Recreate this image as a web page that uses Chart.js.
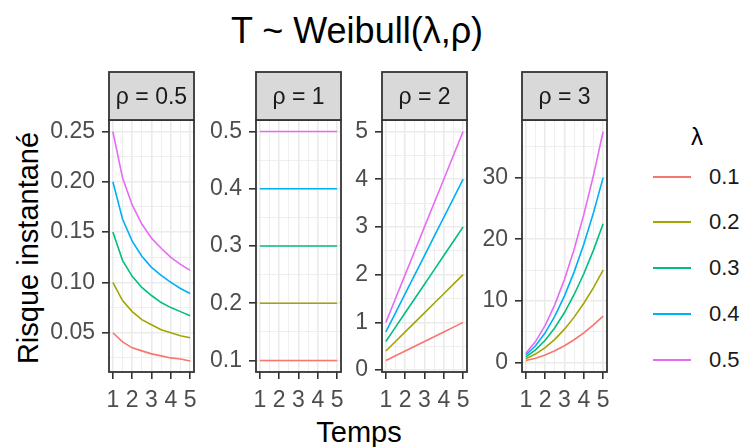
<!DOCTYPE html>
<html>
<head>
<meta charset="utf-8">
<script src="https://cdn.jsdelivr.net/npm/chart.js@4/dist/chart.umd.min.js"></script>
<style>
  body { margin: 0; background: #fff; font-family: "Liberation Sans", Arial, sans-serif; }
  #page { position: relative; width: 753px; height: 447px; overflow: hidden; background: #fff; }
  #page canvas, .txt { position: absolute; }
  .txt { white-space: nowrap; line-height: 1; }
  #title { left: 357px; top: 31px; transform: translate(-50%, -50%); font-size: 36px; color: #000; }
  #xTitle { left: 359px; top: 432px; transform: translate(-50%, -50%); font-size: 29px; color: #000; }
  #yTitle { left: 28px; top: 248px; transform: translate(-50%, -50%) rotate(-90deg); font-size: 29px; color: #000; }
  #legendTitle { left: 697px; top: 137px; transform: translate(-50%, -50%); font-size: 24px; color: #000; }
  .key { position: absolute; left: 653px; width: 38px; height: 2px; }
  .keyLabel { left: 709px; font-size: 22px; color: #1a1a1a; transform: translateY(-50%); }
</style>
</head>
<body>
<div id="page">
  <div class="txt" id="title">T ~ Weibull(λ,ρ)</div>
  <div class="txt" id="yTitle">Risque instantané</div>
  <div class="txt" id="xTitle">Temps</div>
  <div class="txt" id="legendTitle">λ</div>
</div>
<script>
// time points (x) and groups
const temps = [1, 1.5, 2, 2.5, 3, 3.5, 4, 4.5, 5];
const lambdas = ["0.1", "0.2", "0.3", "0.4", "0.5"];
const rhoLabels = ["ρ = 0.5", "ρ = 1", "ρ = 2", "ρ = 3"];
const colors = ["#F8766D", "#A3A500", "#00BF7D", "#00B0F6", "#E76BF3"];

const hazardRho05 = [
  [0.050, 0.041, 0.035, 0.032, 0.029, 0.027, 0.025, 0.024, 0.022],
  [0.100, 0.082, 0.071, 0.063, 0.058, 0.053, 0.050, 0.047, 0.045],
  [0.150, 0.122, 0.106, 0.095, 0.087, 0.080, 0.075, 0.071, 0.067],
  [0.200, 0.163, 0.141, 0.126, 0.115, 0.107, 0.100, 0.094, 0.089],
  [0.250, 0.204, 0.177, 0.158, 0.144, 0.134, 0.125, 0.118, 0.112]
];
const hazardRho1 = [
  [0.1, 0.1, 0.1, 0.1, 0.1, 0.1, 0.1, 0.1, 0.1],
  [0.2, 0.2, 0.2, 0.2, 0.2, 0.2, 0.2, 0.2, 0.2],
  [0.3, 0.3, 0.3, 0.3, 0.3, 0.3, 0.3, 0.3, 0.3],
  [0.4, 0.4, 0.4, 0.4, 0.4, 0.4, 0.4, 0.4, 0.4],
  [0.5, 0.5, 0.5, 0.5, 0.5, 0.5, 0.5, 0.5, 0.5]
];
const hazardRho2 = [
  [0.2, 0.3, 0.4, 0.5, 0.6, 0.7, 0.8, 0.9, 1.0],
  [0.4, 0.6, 0.8, 1.0, 1.2, 1.4, 1.6, 1.8, 2.0],
  [0.6, 0.9, 1.2, 1.5, 1.8, 2.1, 2.4, 2.7, 3.0],
  [0.8, 1.2, 1.6, 2.0, 2.4, 2.8, 3.2, 3.6, 4.0],
  [1.0, 1.5, 2.0, 2.5, 3.0, 3.5, 4.0, 4.5, 5.0]
];
const hazardRho3 = [
  [0.3, 0.68, 1.2, 1.88, 2.7, 3.68, 4.8, 6.08, 7.5],
  [0.6, 1.35, 2.4, 3.75, 5.4, 7.35, 9.6, 12.15, 15.0],
  [0.9, 2.03, 3.6, 5.63, 8.1, 11.03, 14.4, 18.23, 22.5],
  [1.2, 2.7, 4.8, 7.5, 10.8, 14.7, 19.2, 24.3, 30.0],
  [1.5, 3.38, 6.0, 9.38, 13.5, 18.38, 24.0, 30.38, 37.5]
];
const hazards = [hazardRho05, hazardRho1, hazardRho2, hazardRho3];

// axes
const xMin = 0.8, xMax = 5.2;
const xMajor = [1, 2, 3, 4, 5];
const xMinor = [1.5, 2.5, 3.5, 4.5];
const yMin = [0.011, 0.08, -0.04, -1.56];
const yMax = [0.2614, 0.52, 5.24, 39.36];
const yMajor = [
  [0.05, 0.10, 0.15, 0.20, 0.25],
  [0.1, 0.2, 0.3, 0.4, 0.5],
  [0, 1, 2, 3, 4, 5],
  [0, 10, 20, 30]
];
const yMinor = [
  [0.025, 0.075, 0.125, 0.175, 0.225],
  [0.15, 0.25, 0.35, 0.45],
  [0.5, 1.5, 2.5, 3.5, 4.5],
  [5, 15, 25, 35]
];
const yDecimals = [2, 1, 0, 0];

// layout
const panelLeft = [109, 256, 382, 522];
const panelW = 85;
const axisW = 72;
const padRight = 12;
const stripH = 48;
const xAxisH = 45;
const page = document.getElementById("page");
const font = "'Liberation Sans', Arial, sans-serif";

function buildTicks(major, minor) {
  const all = major.map(v => ({ value: v, major: true }))
    .concat(minor.map(v => ({ value: v, major: false })));
  return all.sort((a, b) => a.value - b.value);
}

function isMajor(ctx) {
  return ctx.tick && ctx.tick.major;
}

const panelDecor = {
  id: "panelDecor",
  afterDraw(chart, args, opts) {
    const { ctx, chartArea: a } = chart;
    ctx.save();
    ctx.strokeStyle = "#333333";
    ctx.lineWidth = 1.8;
    ctx.strokeRect(a.left, a.top, a.right - a.left, a.bottom - a.top);
    // facet strip
    ctx.fillStyle = "#D9D9D9";
    ctx.fillRect(a.left, a.top - stripH, a.right - a.left, stripH);
    ctx.strokeRect(a.left, a.top - stripH, a.right - a.left, stripH);
    ctx.fillStyle = "#1A1A1A";
    ctx.font = "23px " + font;
    ctx.textAlign = "center";
    ctx.textBaseline = "middle";
    ctx.fillText(opts.text, (a.left + a.right) / 2, a.top - stripH / 2 + 2);
    ctx.restore();
  }
};

function makePanel(i) {
  const canvas = document.createElement("canvas");
  canvas.width = axisW + panelW + padRight;
  canvas.height = 50 + 252 + xAxisH;
  canvas.style.left = (panelLeft[i] - axisW) + "px";
  canvas.style.top = "70px";
  page.appendChild(canvas);

  const datasets = lambdas.map((lam, k) => ({
    label: lam,
    data: temps.map((t, j) => ({ x: t, y: hazards[i][k][j] })),
    borderColor: colors[k],
    borderWidth: 1.6,
    pointRadius: 0,
    fill: false,
    tension: 0
  }));

  const gridStyle = {
    color: "#EBEBEB",
    lineWidth: ctx => isMajor(ctx) ? 1.6 : 0.8,
    tickColor: ctx => isMajor(ctx) ? "#333333" : "rgba(0,0,0,0)",
    tickWidth: 1.6,
    tickLength: 7,
    drawTicks: true
  };

  new Chart(canvas, {
    type: "line",
    data: { datasets },
    options: {
      responsive: false,
      animation: false,
      devicePixelRatio: 1,
      layout: { padding: { top: 50, right: padRight, left: 0, bottom: 0 } },
      plugins: {
        legend: { display: false },
        tooltip: { enabled: false },
        panelDecor: { text: rhoLabels[i] }
      },
      scales: {
        x: {
          type: "linear",
          bounds: "data",
          min: xMin,
          max: xMax,
          grid: gridStyle,
          border: { display: false },
          afterBuildTicks: s => { s.ticks = buildTicks(xMajor, xMinor); },
          afterFit: s => { s.height = xAxisH; },
          ticks: {
            autoSkip: false,
            maxRotation: 0,
            padding: 8,
            color: "#4D4D4D",
            font: { family: font, size: 23 },
            callback: (v, idx, ticks) => ticks[idx].major ? String(v) : ""
          }
        },
        y: {
          type: "linear",
          bounds: "data",
          min: yMin[i],
          max: yMax[i],
          grid: gridStyle,
          border: { display: false },
          afterBuildTicks: s => { s.ticks = buildTicks(yMajor[i], yMinor[i]); },
          afterFit: s => { s.width = axisW; },
          ticks: {
            autoSkip: false,
            padding: 7,
            color: "#4D4D4D",
            font: { family: font, size: 23 },
            callback: (v, idx, ticks) => ticks[idx].major ? v.toFixed(yDecimals[i]) : ""
          }
        }
      }
    },
    plugins: [panelDecor]
  });
}

for (let i = 0; i < 4; i++) makePanel(i);

// legend
const keyTops = [177, 222, 268, 314, 360];
lambdas.forEach((lam, k) => {
  const line = document.createElement("div");
  line.className = "key";
  line.style.top = (keyTops[k] - 1) + "px";
  line.style.background = colors[k];
  page.appendChild(line);
  const label = document.createElement("div");
  label.className = "txt keyLabel";
  label.style.top = keyTops[k] + "px";
  label.textContent = lam;
  page.appendChild(label);
});
</script>
</body>
</html>
